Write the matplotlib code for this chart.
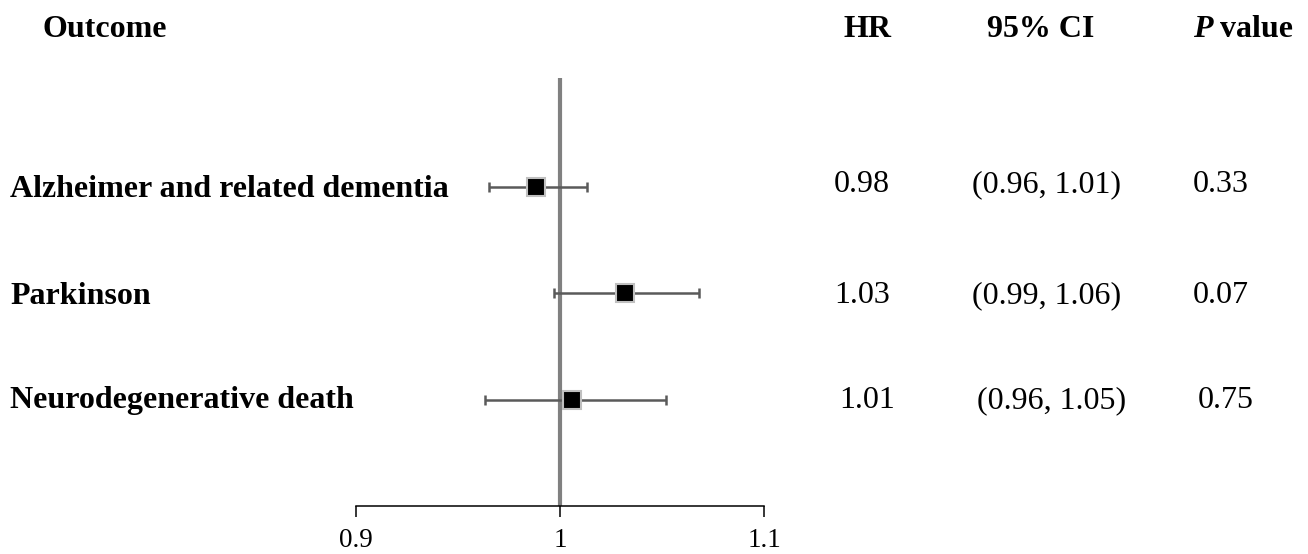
import matplotlib
matplotlib.use("Agg")
import matplotlib.pyplot as plt

# ---- data ----
outcomes = ["Alzheimer and related dementia", "Parkinson", "Neurodegenerative death"]
hr_est = [0.988, 1.032, 1.006]
ci_low = [0.965, 0.997, 0.963]
ci_high = [1.013, 1.068, 1.052]
hr_text = ["0.98", "1.03", "1.01"]
ci_text = ["(0.96, 1.01)", "(0.99, 1.06)", "(0.96, 1.05)"]
p_text = ["0.33", "0.07", "0.75"]
xticks = [0.9, 1.0, 1.1]
xtick_labels = ["0.9", "1", "1.1"]

W, H = 1308, 554
plt.rcParams['font.family'] = ['Liberation Serif', 'DejaVu Serif']
fig = plt.figure(figsize=(W / 100, H / 100), dpi=100)

def fx(px):
    return px / W

def fy(py):
    return 1 - py / H

# forest axes
ax_l, ax_r, ax_t, ax_b = 356, 764, 78, 506
ax = fig.add_axes([fx(ax_l), fy(ax_b), fx(ax_r - ax_l), (ax_b - ax_t) / H])
rows = list(range(len(outcomes)))
ax.set_xlim(0.9, 1.1)
ax.set_ylim(2.995, -1.02)
ax.axvline(1.0, color='#808080', lw=3.0, zorder=1)
xerr = [[h - l for h, l in zip(hr_est, ci_low)], [u - h for h, u in zip(hr_est, ci_high)]]
ax.errorbar(hr_est, rows, xerr=xerr, fmt='none', ecolor='#5a5a5a', elinewidth=1.8,
            capsize=3.4, capthick=1.8, zorder=2)
ax.plot(hr_est, rows, 's', color='black', markersize=12.5, markeredgecolor='#c0c0c0',
        markeredgewidth=1.5, zorder=3, linestyle='none')
for s in ['top', 'right', 'left']:
    ax.spines[s].set_visible(False)
ax.spines['bottom'].set_linewidth(1.1)
ax.set_yticks([])
ax.set_xticks(xticks)
ax.set_xticklabels(xtick_labels, fontsize=19.5)
ax.tick_params(axis='x', direction='out', length=8, width=1.1, pad=8)
ax.patch.set_visible(False)

# headers
hdr_base = 37
fig.text(fx(42), fy(hdr_base), "Outcome", fontsize=23, fontweight='bold', va='baseline', ha='left')
fig.text(fx(867), fy(hdr_base), "HR", fontsize=23, fontweight='bold', va='baseline', ha='center')
fig.text(fx(1041), fy(hdr_base), "95% CI", fontsize=23, fontweight='bold', va='baseline', ha='center')
fig.text(fx(1193), fy(hdr_base), "P", fontsize=23, fontweight='bold', fontstyle='italic',
         va='baseline', ha='left')
fig.text(fx(1220), fy(hdr_base), "value", fontsize=23, fontweight='bold',
         va='baseline', ha='left')

# rows
label_base = [197, 304, 408]
val_base = [192, 303, 408]
hr_x = [862, 862, 867]
ci_x = [1047, 1047, 1052]
p_x = [1221, 1221, 1226]
for i in rows:
    fig.text(fx(10), fy(label_base[i]), outcomes[i], fontsize=23, fontweight='bold',
             va='baseline', ha='left')
    fig.text(fx(hr_x[i]), fy(val_base[i]), hr_text[i], fontsize=23, va='baseline', ha='center')
    fig.text(fx(ci_x[i]), fy(val_base[i]), ci_text[i], fontsize=23, va='baseline', ha='center')
    fig.text(fx(p_x[i]), fy(val_base[i]), p_text[i], fontsize=23, va='baseline', ha='center')

fig.savefig("out.png", dpi=100)
